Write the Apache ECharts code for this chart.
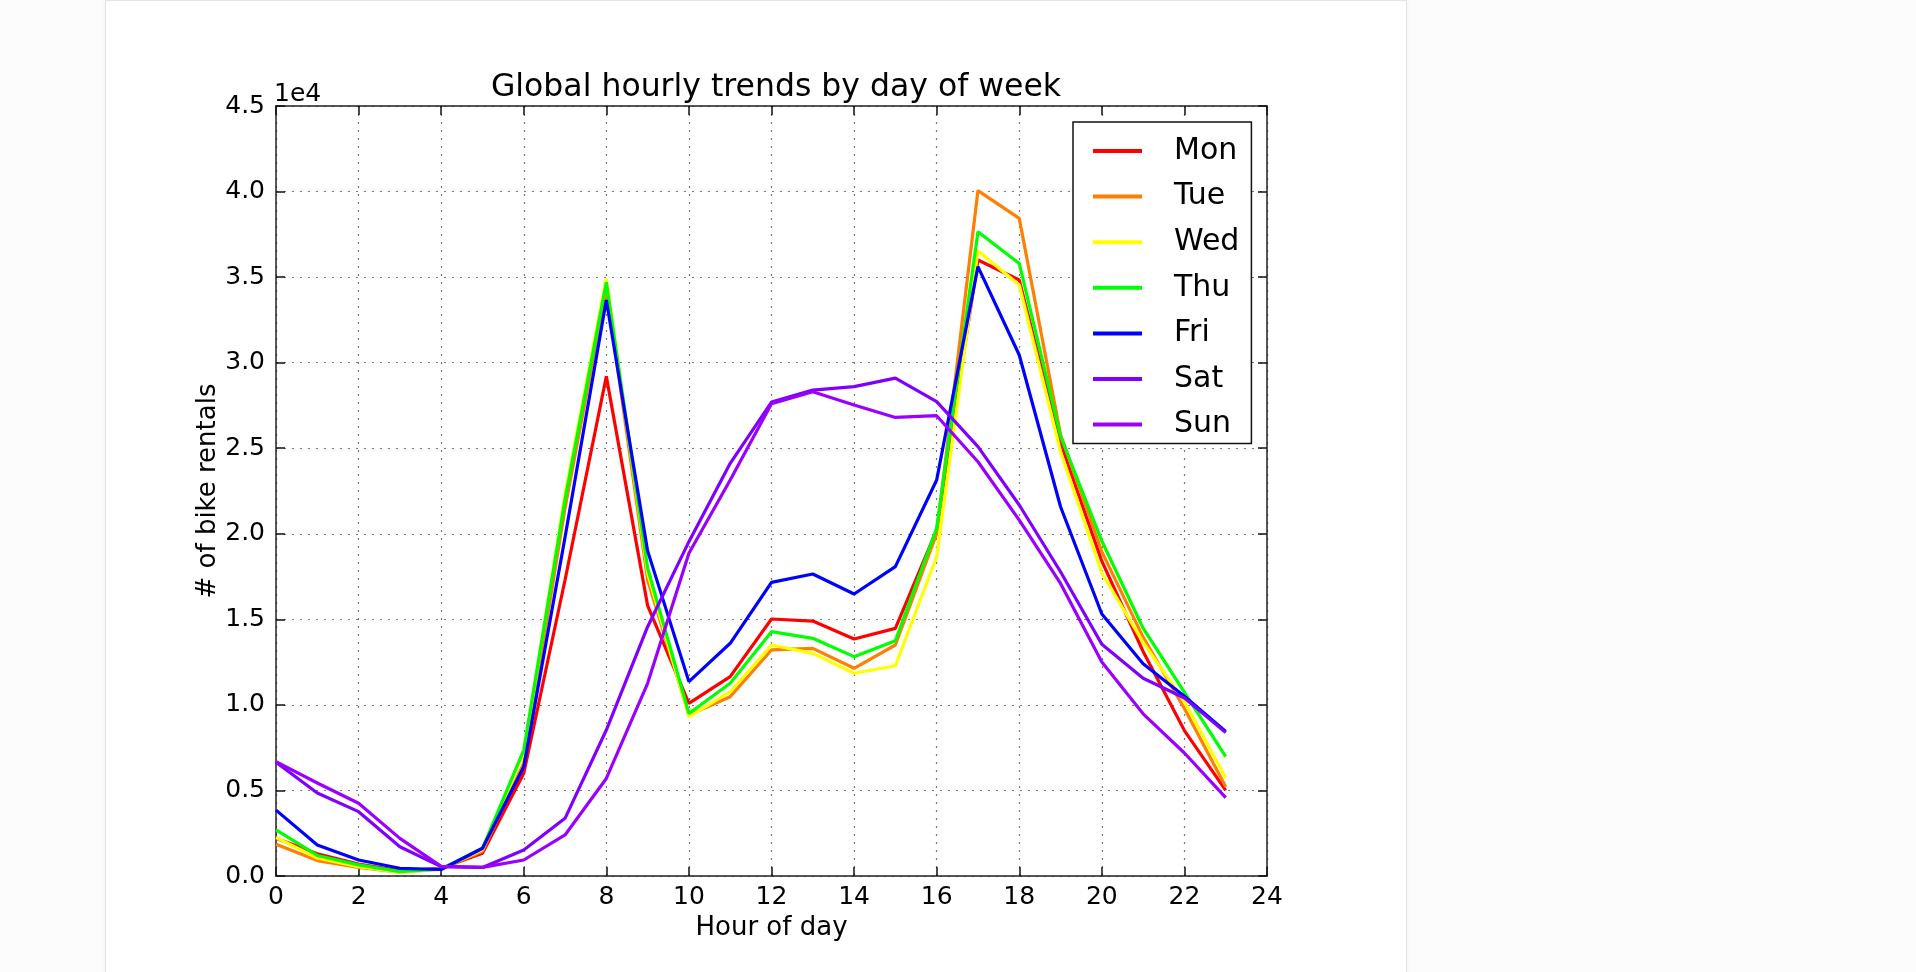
<!DOCTYPE html>
<html><head><meta charset="utf-8">
<script src="https://cdn.jsdelivr.net/npm/echarts@6/dist/echarts.min.js"></script>
<style>
html,body{margin:0;padding:0;background:#fcfcfc;width:1916px;height:972px;overflow:hidden}
#card{position:absolute;left:105px;top:0;width:1300px;height:990px;background:#fff;border:1px solid #e4e4e4;box-shadow:0 0 4px rgba(0,0,0,0.05)}
#chart{position:absolute;left:0;top:0;width:1916px;height:972px}
</style></head><body>
<div id="card"></div><div id="chart"></div>
<script>
const hours = [0,1,2,3,4,5,6,7,8,9,10,11,12,13,14,15,16,17,18,19,20,21,22,23];
const dayNames = ['Mon','Tue','Wed','Thu','Fri','Sat','Sun'];
const mon = [2200,1300,700,300,450,1330,6000,17300,29200,15800,10090,11650,15020,14900,13850,14470,20220,36000,34830,25300,18400,13120,8500,5000];
const tue = [1850,900,500,220,400,1450,6600,21500,34300,17300,9400,10480,13210,13300,12140,13500,20000,40050,38430,25800,18960,13960,9790,5210];
const wed = [2250,1050,550,230,400,1550,7200,22300,34900,17700,9300,10770,13500,13010,11850,12290,18660,36540,34540,24800,17710,13650,10200,5730];
const thu = [2700,1200,650,260,420,1620,7360,22000,34700,18000,9500,11260,14280,13890,12820,13750,20320,37650,35800,25700,19580,14480,10730,6980];
const fri = [3850,1812,935,450,380,1620,6390,19800,33660,19000,11360,13600,17160,17650,16480,18080,23140,35610,30450,21580,15310,12400,10500,8440];
const sat = [6650,4850,3760,1710,545,500,1520,3370,8530,14570,19540,24120,27700,28400,28600,29100,27720,25090,21680,17780,13540,11560,10400,8380];
const sun = [6680,5435,4250,2200,560,500,935,2400,5700,11260,18860,23140,27600,28300,27530,26800,26900,24210,20800,17100,12500,9480,7190,4580];
const xTicks = [0,2,4,6,8,10,12,14,16,18,20,22,24];
const yTicks = [0,5000,10000,15000,20000,25000,30000,35000,40000,45000];

const seriesValues = [mon,tue,wed,thu,fri,sat,sun];
const lineColors = ['#ff0000','#ff7f00','#ffff00','#00ff00','#0000ff','#8000ff','#9b00ff'];
const FONT = 'DejaVu Sans';

const chart = echarts.init(document.getElementById('chart'), null, {renderer:'canvas'});
const gridLine = {show:true, lineStyle:{color:'#777', width:1.2, type:[2,6]}};
const tick = {show:true, inside:true, length:9, lineStyle:{color:'#111', width:1.5}};
const axLine = {show:true, onZero:false, lineStyle:{color:'#222', width:1.5}};
const xBase = {type:'value', min:xTicks[0], max:xTicks[xTicks.length-1], interval:2, axisLine:axLine, axisTick:tick};
const yBase = {type:'value', min:yTicks[0], max:yTicks[yTicks.length-1], interval:5000, axisLine:axLine, axisTick:tick};

chart.setOption({
  backgroundColor:'transparent',
  animation:false,
  title:{text:'Global hourly trends by day of week', left:'771', textAlign:'center', top:67,
    textStyle:{fontFamily:FONT, fontSize:31.5, fontWeight:'normal', color:'#000'}},
  graphic:[{type:'text', left:274, top:82, style:{text:'1e4', font:'25px "DejaVu Sans"', fill:'#000'}}],
  grid:{left:276, top:106, right:649, bottom:96, show:false},
  legend:{orient:'vertical', left:1073, top:122, padding:[14,12,4,20], itemGap:15.6,
    itemWidth:49, itemHeight:4, icon:'rect', backgroundColor:'#fff', borderColor:'#111', borderWidth:1.5,
    textStyle:{fontFamily:FONT, fontSize:30, color:'#000', padding:[0,0,0,27]},
    data:dayNames},
  xAxis:[
    Object.assign({}, xBase, {position:'bottom', name:'Hour of day', nameLocation:'middle', nameGap:38,
      nameTextStyle:{fontFamily:FONT, fontSize:26, color:'#000'},
      axisLabel:{fontFamily:FONT, fontSize:25, color:'#000', margin:9}, splitLine:gridLine}),
    Object.assign({}, xBase, {position:'top', axisLabel:{show:false}, splitLine:{show:false}})
  ],
  yAxis:[
    Object.assign({}, yBase, {position:'left', name:'# of bike rentals', nameLocation:'middle', nameGap:55,
      nameMoveOverlap:false,
      nameTextStyle:{fontFamily:FONT, fontSize:26, color:'#000'},
      axisLabel:{fontFamily:FONT, fontSize:25, color:'#000', margin:11, padding:[9,0,0,0],
        formatter:v => (v/10000).toFixed(1)},
      splitLine:gridLine}),
    Object.assign({}, yBase, {position:'right', axisLabel:{show:false}, splitLine:{show:false}})
  ],
  series: dayNames.map((name,i) => ({
    name, type:'line', symbol:'none', silent:true, color:lineColors[i],
    lineStyle:{width:3.2, color:lineColors[i]},
    data: hours.map((h,j) => [h, seriesValues[i][j]])
  }))
});
</script></body></html>
